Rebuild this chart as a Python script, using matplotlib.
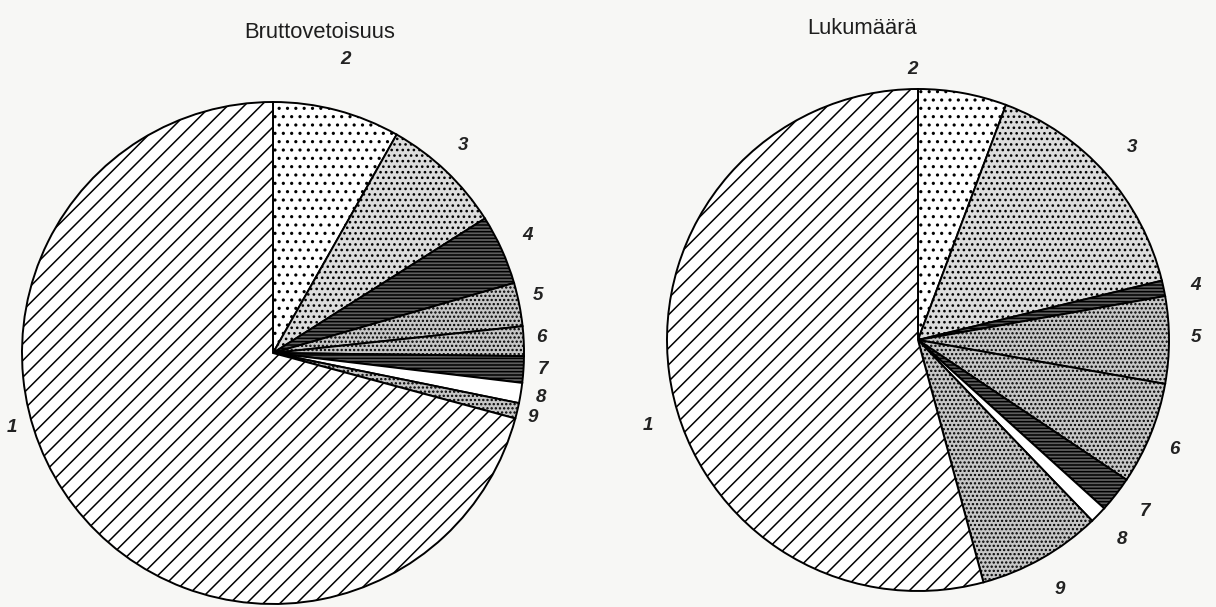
import matplotlib.pyplot as plt

# category numbers 1..9, shares in percent
categories = ['1', '2', '3', '4', '5', '6', '7', '8', '9']
brutto = [70.8, 8.2, 7.8, 4.5, 2.8, 1.9, 1.7, 1.3, 1.0]
lukumaara = [54.2, 5.7, 15.5, 1.0, 5.6, 6.6, 2.3, 1.1, 8.0]

# fill per category
faces = ['white', 'white', '#dcdcdc', '#5e5e5e', '#c6c6c6', '#c6c6c6', '#5e5e5e', 'white', '#c6c6c6']
hatches = ['//', '..', '...', '-----', '....', '....', '-----', '', '....']

# slices run clockwise from 12 o'clock: 2..9 and then 1
order = [1, 2, 3, 4, 5, 6, 7, 8, 0]

# label spots (pixels from top-left)
lab_left = [(12, 428), (345, 60), (463, 145), (527, 236), (538, 296),
            (541, 338), (543, 370), (541, 398), (533, 417)]
lab_right = [(648, 425), (912, 70), (1132, 148), (1196, 285), (1196, 338),
             (1174, 449), (1145, 512), (1122, 540), (1060, 590)]

W, H, DPI = 1216, 607, 100
plt.rcParams['hatch.linewidth'] = 1.1
bg = '#f7f7f5'

fig = plt.figure(figsize=(W / DPI, H / DPI), dpi=DPI, facecolor=bg)
ax = fig.add_axes([0, 0, 1, 1])
ax.set_facecolor(bg)


def draw_pie(vals, center, labs):
    ax.pie([vals[i] for i in order],
           colors=[faces[i] for i in order],
           hatch=[hatches[i] for i in order],
           startangle=270, counterclock=True,
           center=center, radius=251, frame=True,
           wedgeprops=dict(edgecolor='black', linewidth=1.4))
    for cat, (x, y) in zip(categories, labs):
        ax.text(x, y, cat, ha='center', va='center', fontsize=13.5,
                fontstyle='italic', fontweight='bold', family='Liberation Sans',
                color='#222222')


draw_pie(brutto, (273, 353), lab_left)
draw_pie(lukumaara, (918, 340), lab_right)

ax.text(320, 33, 'Bruttovetoisuus', ha='center', va='center', fontsize=15.8,
        family='Liberation Sans', color='#1e1e1e')
ax.text(862, 28, 'Lukumäärä', ha='center', va='center', fontsize=15.8,
        family='Liberation Sans', color='#1e1e1e')

ax.set_xlim(0, W)
ax.set_ylim(H, 0)
ax.set_aspect('equal')
ax.axis('off')

fig.savefig('out.png', dpi=DPI, facecolor=bg)
